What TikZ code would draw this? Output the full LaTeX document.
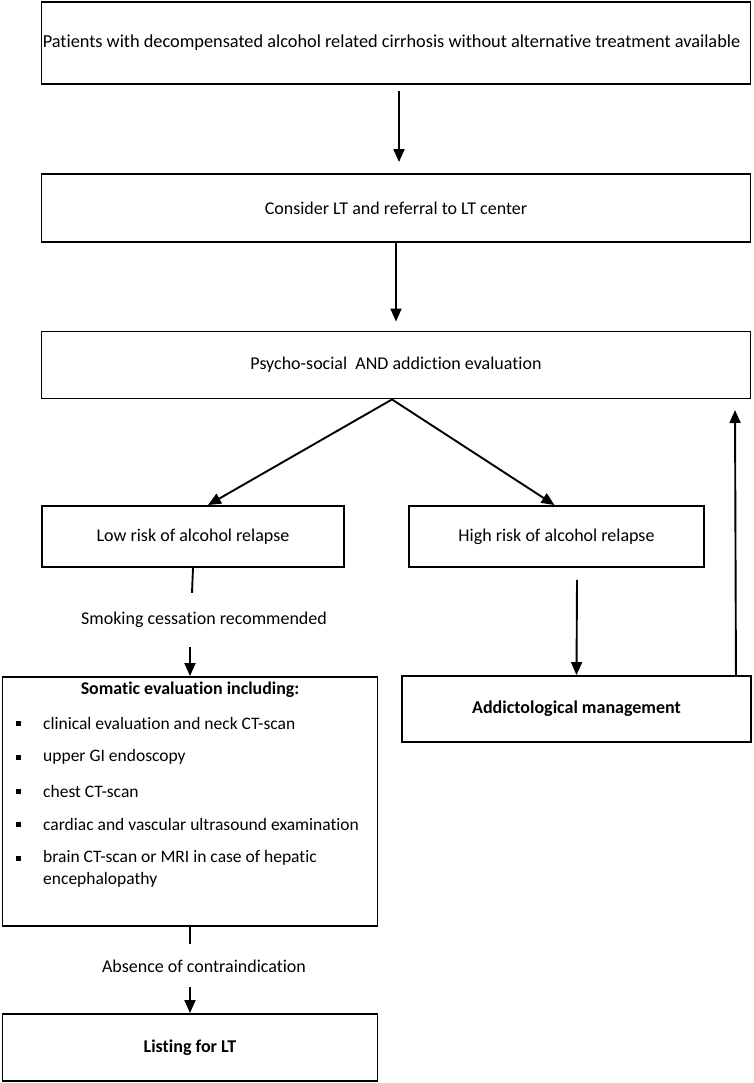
\documentclass[tikz,border=0pt]{standalone}
\usepackage{fontspec}
\setmainfont{Carlito}[Ligatures=NoCommon]
\usetikzlibrary{arrows.meta}
\usetikzlibrary{calc}
\usetikzlibrary{positioning}

\tikzset{
  box/.style={draw,rectangle,line width=1.9pt,inner sep=0pt,align=center,font=\fontsize{18}{21}\selectfont},
  lab/.style={inner sep=0pt,font=\fontsize{18}{21}\selectfont},
  arr/.style={line width=1.9pt,-{Triangle[length=13pt,width=11pt]}},
  bul/.style={fill,rectangle,minimum size=5pt,inner sep=0pt}
}

\begin{document}
\begin{tikzpicture}[x=1pt,y=-1pt]

  \useasboundingbox (0,0) rectangle (754,1083);

  \node [box,minimum width=709,minimum height=82,font=\fontsize{18.3}{21}\selectfont] (pat) at (396,43) {Patients with decompensated alcohol related cirrhosis without alternative treatment available\hspace*{9pt}};
  \node [box,minimum width=709,minimum height=68] (cons) at (396,208) {Consider LT and referral to LT center};
  \node [box,minimum width=709,minimum height=67] (psy) at (396,365) {Psycho-social\ \ AND addiction evaluation};

  \node [box,minimum width=302,minimum height=61] (low) at (193,536.5) {Low risk of alcohol relapse};
  \node [box,minimum width=295,minimum height=61] (high) at (556.5,536.5) {High risk of alcohol relapse};

  \node [lab] (smok) at (204,620) {Smoking cessation recommended};

  \node [box,minimum width=375,minimum height=249] (som) at (190,801.5) {};
  \node [box,minimum width=349,minimum height=66,font=\fontsize{18}{21}\selectfont\bfseries] (addi) at (576.5,709) {Addictological management};

  \node [lab,font=\fontsize{17.9}{21}\selectfont\bfseries] (somt) at (190,690) {Somatic evaluation including:};
  \foreach \yy/\txt [count=\i] in {723/clinical evaluation and neck CT-scan,
                                  757/upper GI endoscopy,
                                  791/chest CT-scan,
                                  824/cardiac and vascular ultrasound examination,
                                  858/brain CT-scan or MRI in case of hepatic} {
    \node [bul] (b\i) at (18,\yy) {};
    \node [lab,anchor=west,font=\fontsize{17.5}{21}\selectfont] (it\i) at (43,\yy) {\txt};
  }
  \node [lab,anchor=west,font=\fontsize{17.5}{21}\selectfont] (it6) at (43,880) {encephalopathy};

  \node [lab] (abs) at (204,966) {Absence of contraindication};
  \node [box,minimum width=375,minimum height=67,font=\fontsize{18}{21}\selectfont\bfseries] (list) at (190,1047.5) {Listing for LT};

  \coordinate (up) at (735,410);

  \draw [arr] ([shift={(3,6)}]pat.south) -- ([shift={(3,-11)}]cons.north);
  \draw [arr] (cons.south) -- ([yshift=9]psy.north);
  \draw [arr] ([xshift=-4]psy.south) -- ([xshift=15]low.north);
  \draw [arr] ([xshift=-4]psy.south) -- ([xshift=-2]high.north);
  \draw [line width=1.9pt] (low.south) -- ([shift={(-1,25)}]low.south);
  \draw [arr] ([yshift=29]som.north) -- (som.north);
  \draw [line width=1.9pt] (som.south) -- ([yshift=-17]som.south);
  \draw [arr] ([yshift=26]list.north) -- (list.north);
  \draw [arr] ([shift={(20.5,12)}]high.south) -- (addi.north);
  \draw [arr] ([xshift=-16]addi.north east) -- (up);

\end{tikzpicture}
\end{document}
